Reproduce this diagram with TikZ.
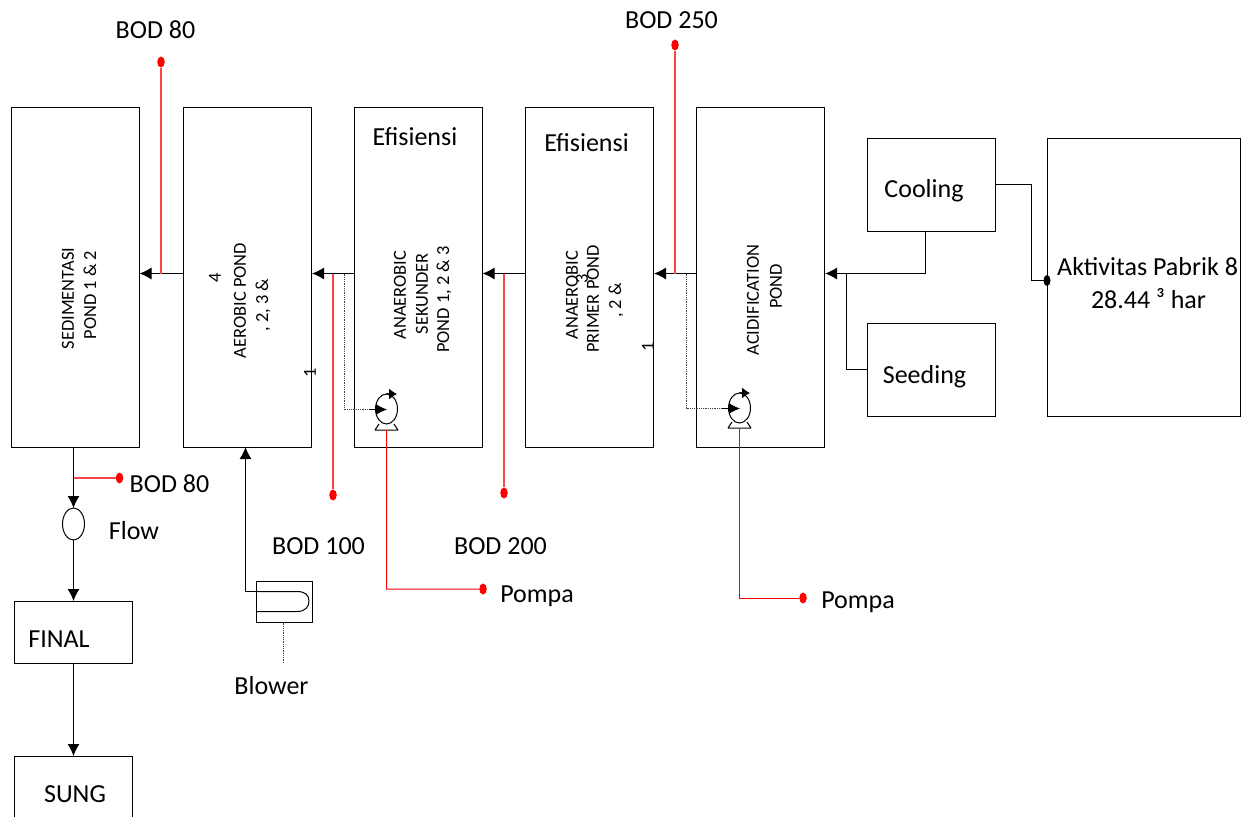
\documentclass[tikz,border=0pt]{standalone}
\usepackage{fontspec}
\setmainfont{Carlito}
\usetikzlibrary{arrows.meta,calc,shapes.geometric}
\definecolor{redline}{RGB}{250,70,70}
\tikzset{
 x=1pt,y=-1pt,
 box/.style={draw=black,line width=1pt,inner sep=0pt,rectangle,minimum width=#1},
 pond/.style={box=128pt,minimum height=340pt},
 ln/.style={draw=black,line width=1pt},
 arr/.style={ln,-{Latex[length=12pt,width=12pt]}},
 rl/.style={draw=redline,line width=1.5pt},
 rlb/.style={draw=red,line width=1pt},
 dotline/.style={draw=black!75,line width=.9pt,dash pattern=on 1pt off .8pt},
 rdot/.style={ellipse,fill=red,draw=none,minimum width=7.5pt,minimum height=11pt,inner sep=0pt},
 lab/.style={inner sep=0pt,font=\fontsize{26}{28}\selectfont},
 rot/.style={inner sep=0pt,rotate=90,font=\fontsize{18.4}{20}\selectfont},
 pump/.style={draw=black,line width=1pt,ellipse,minimum width=22pt,minimum height=30pt,inner sep=0pt},
}
\begin{document}
\begin{tikzpicture}
\useasboundingbox (0,0) rectangle (1257,816);
\clip (0,0) rectangle (1257,816);
% boxes
\node[pond] (sed) at (75,277) {};
\node[pond] (aer) at (247.5,277) {};
\node[pond] (anb) at (418,277) {};
\node[pond] (ana) at (589.5,277) {};
\node[pond] (aci) at (760.5,277) {};
\node[box=128pt,minimum height=93pt] (cool) at (931.5,184.5) {};
\node[box=128pt,minimum height=93pt] (seed) at (931.5,369.5) {};
\node[box=193.5pt,minimum height=278pt] (pab) at (1144,277) {};
\node[box=118pt,minimum height=62pt] (fin) at (73,632) {};
\node[box=118pt,minimum height=80pt] (sun) at (73,796) {};
\node[draw=black,line width=1pt,ellipse,minimum width=22pt,minimum height=32pt,inner sep=0pt] (flow) at (73.5,524) {};
\node[box=56pt,minimum height=41pt] (blow) at (284,601.5) {};
\node[pump] (p1) at (386.5,409) {};
\node[pump] (p2) at (739.5,408) {};
% coordinates
\coordinate (j1) at (161,273.5);
\coordinate (j2) at (333,273.5);
\coordinate (j3) at (344.5,273.5);
\coordinate (j4) at (504,273.5);
\coordinate (j5) at (675,273.5);
\coordinate (j6) at (686.5,273.5);
\coordinate (j7) at (846.5,273.5);
\coordinate (j8) at (925.5,273.5);
\coordinate (pabdot) at (1047,280.5);
\coordinate (j9) at (73.5,478);
% main flow
\draw[arr] (aer.west |- j1) -- (sed.east |- j1);
\draw[arr] (anb.west |- j2) -- (aer.east |- j2);
\draw[arr] (ana.west |- j4) -- (anb.east |- j4);
\draw[arr] (aci.west |- j5) -- (ana.east |- j5);
\draw[arr] (cool.south -| j8) -- (j8) -- (aci.east |- j8);
\draw[ln] (seed.west) -- (j7 |- seed.west) -- (j7);
\draw[ln] (996,184.5) -- (1031.5,184.5) -- (1031.5,280.5) -- (pabdot);
\fill[black] (pabdot) ellipse [x radius=3.5,y radius=5.5];
\draw[arr] (73.5,447) -- (73.5,508);
\draw[arr] (73.5,540) -- (73.5,601);
\draw[arr] (73.5,663) -- (73.5,756);
% blower
\draw[arr] (256,591.5) -- (245.5,591.5) -- (245.5,447);
\draw[ln] (256,591.5) -- (297,591.5) .. controls (305,591.5) and (309,595) .. (309,601) .. controls (309,607) and (305,611.5) .. (297,611.5) -- (256,611.5);
\coordinate (b1) at (283.5,663);
\draw[dotline] (blow.south -| b1) -- (b1);
% pump 1
\draw[dotline] (j3) -- (344.5,409.5) -- (375,409.5);
\draw[ln,-{Latex[length=11pt,width=11pt]}] (369,409.5) -- (387,409.5);
\draw[line width=1pt,-{Latex[length=8pt,width=11pt]}] (p1.north) .. controls (390,394) .. (397,394);
\draw[line width=1pt] (375,430) -- (379,424) (398,430) -- (394,424) (375,430) -- (398,430);
% pump 2
\draw[dotline] (j6) -- (686.5,408.5) -- (728,408.5);
\draw[ln,-{Latex[length=11pt,width=11pt]}] (722,408.5) -- (740,408.5);
\draw[line width=1pt,-{Latex[length=8pt,width=11pt]}] (p2.north) .. controls (743,393) .. (750,393);
\draw[line width=1pt] (728,428) -- (732,422) (751,428) -- (747,422) (728,428) -- (751,428);
% red lines
\node[rdot] (r1) at (161,62) {};
\node[rdot] (r2) at (675,45) {};
\node[rdot] (r3) at (333,495) {};
\node[rdot] (r4) at (504,493) {};
\node[rdot] (r5) at (119.5,478) {};
\node[rdot] (r6) at (483,589) {};
\node[rdot] (r7) at (803,598) {};
\draw[rl] (r1) -- (j1);
\draw[rl] (r2) -- (j5);
\draw[rl] (j2) -- (r3);
\draw[rl] (j4) -- (r4);
\draw[rl] (j9) -- (r5);
\coordinate (q1) at (386.7,589.2);
\coordinate (q2) at (739,598);
\draw[rlb] (386.7,430) -- (q1) -- (r6);
\draw[rlb] (739,428) -- (q2) -- (r7);
% labels
\node[lab] (t1) at (155.5,30) {BOD 80};
\node[lab] (t2) at (671.5,20) {BOD 250};
\node[lab] (t3) at (415,137) {Efisiensi};
\node[lab] (t4) at (586.5,143) {Efisiensi};
\node[lab] (t5) at (924,190.5) {Cooling};
\node[lab] (t6) at (924.5,376.5) {Seeding};
\node[lab,anchor=west] (t7) at (1057,266.5) {Aktivitas Pabrik 8};
\node[lab] (t8) at (1148.5,298.5) {28.44 ³ har};
\node[lab] (t9) at (169.5,484) {BOD 80};
\node[lab] (t10) at (134,531) {Flow};
\node[lab] (t11) at (318.5,546) {BOD 100};
\node[lab] (t12) at (500.5,546) {BOD 200};
\node[lab] (t13) at (537,596.5) {Pompa};
\node[lab] (t14) at (858,602.5) {Pompa};
\node[lab] (t15) at (59,639) {FINAL};
\node[lab] (t16) at (75,794) {SUNG};
\node[lab] (t17) at (271.5,686) {Blower};
% rotated
\node[rot] (s1) at (68,298.5) {SEDIMENTASI};
\node[rot] (s2) at (90,295) {POND 1 \& 2};
\node[rot] (a1) at (240,300.5) {AEROBIC POND};
\node[rot] (a2) at (263,305) {, 2, 3 \&};
\node[rot] (a3) at (215,278) {4};
\node[rot] (a4) at (310,373) {1};
\node[rot] (b2) at (400,295) {ANAEROBIC};
\node[rot] (b3) at (422,294) {SEKUNDER};
\node[rot] (b4) at (444,299.5) {POND 1, 2 \& 3};
\node[rot] (c1) at (572,295) {ANAEROBIC};
\node[rot] (c2) at (582,279) {3};
\node[rot] (c3) at (593,299) {PRIMER POND};
\node[rot] (c4) at (616,300.5) {, 2 \&};
\node[rot] (c5) at (648,347) {1};
\node[rot] (d1) at (753,300) {ACIDIFICATION};
\node[rot] (d2) at (776,286.5) {POND};
\end{tikzpicture}
\end{document}
